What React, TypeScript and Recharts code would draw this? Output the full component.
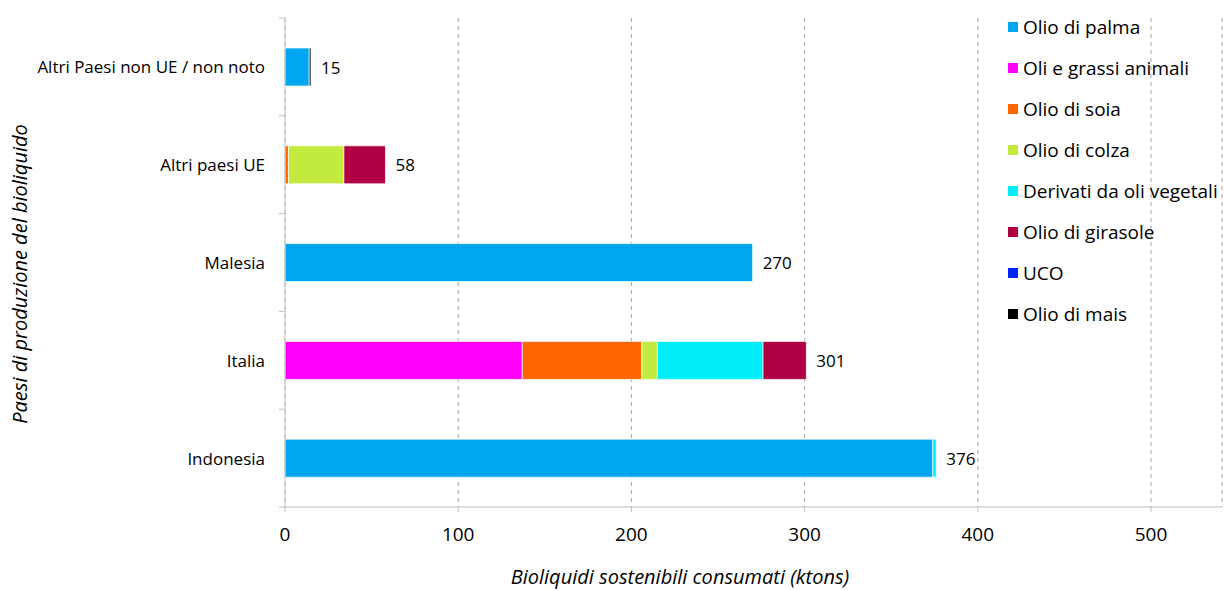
import { Bar, BarChart, CartesianGrid, LabelList, XAxis, YAxis } from "recharts";

const countries = ["Altri Paesi non UE / non noto", "Altri paesi UE", "Malesia", "Italia", "Indonesia"];
const palma = [14, 0, 270, 0, 374];
const animali = [0, 0, 0, 137, 0];
const soia = [0, 2, 0, 69, 0];
const colza = [0, 32, 0, 9, 0];
const derivati = [0, 0, 0, 61, 2];
const girasole = [0, 24, 0, 25, 0];
const uco = [0, 0, 0, 0, 0];
const mais = [1, 0, 0, 0, 0];
const xTicks = [0, 100, 200, 300, 400, 500];

const series = [
  { key: "palma", name: "Olio di palma", color: "#00a6ef", values: palma },
  { key: "animali", name: "Oli e grassi animali", color: "#ff00ff", values: animali },
  { key: "soia", name: "Olio di soia", color: "#ff6600", values: soia },
  { key: "colza", name: "Olio di colza", color: "#c3eb3f", values: colza },
  { key: "derivati", name: "Derivati da oli vegetali", color: "#00eefa", values: derivati },
  { key: "girasole", name: "Olio di girasole", color: "#ae0042", values: girasole },
  { key: "uco", name: "UCO", color: "#0022ff", values: uco },
  { key: "mais", name: "Olio di mais", color: "#000000", values: mais },
];

const data = countries.map((c, i) => {
  const row: Record<string, string | number> = { country: c };
  let total = 0;
  let last = "";
  series.forEach((s) => {
    row[s.key] = s.values[i];
    total += s.values[i];
    if (s.values[i] > 0) last = s.key;
  });
  row.total = total;
  row.labelKey = last; // the outermost segment carries the total label
  return row;
});

const FONT = "'Open Sans', sans-serif";
const HALF_BAND = (507 - 18) / 10;

function CountryTick(props: any) {
  const { x, y, payload, index } = props;
  return (
    <g>
      <text x={x - 20} y={y} textAnchor="end" dominantBaseline="central" fontSize={17} fill="#000" fontFamily={FONT}>
        {payload.value}
      </text>
      <line x1={x - 6} x2={x} y1={y - HALF_BAND} y2={y - HALF_BAND} stroke="#bfbfbf" />
      {index === countries.length - 1 && (
        <line x1={x - 6} x2={x} y1={y + HALF_BAND} y2={y + HALF_BAND} stroke="#bfbfbf" />
      )}
    </g>
  );
}

function TotalLabel(props: any) {
  const { x, y, width, height, value } = props;
  if (value === undefined || value === null || value === "") return null;
  return (
    <text x={x + width + 10} y={y + height / 2} dominantBaseline="central" fontSize={17} fill="#000" fontFamily={FONT}>
      {value}
    </text>
  );
}

export default function App() {
  return (
    <div style={{ position: "fixed", left: 0, top: 0, width: 1224, height: 590, background: "#fff", fontFamily: FONT }}>
      <BarChart
        width={1224}
        height={590}
        data={data}
        layout="vertical"
        margin={{ top: 18, right: 2, bottom: 43, left: 5 }}
        barSize={38}
      >
        <CartesianGrid horizontal={false} stroke="#a6a6a6" strokeDasharray="4 4" />
        <XAxis
          type="number"
          domain={[0, 541]}
          ticks={xTicks}
          tickLine={{ stroke: "#bfbfbf" }}
          tickSize={5}
          axisLine={{ stroke: "#bfbfbf" }}
          tickMargin={16}
          height={40}
          tick={{ fontSize: 19, fill: "#000", fontFamily: FONT }}
        />
        <YAxis
          type="category"
          dataKey="country"
          width={280}
          tickSize={0}
          tickMargin={0}
          tickLine={false}
          axisLine={{ stroke: "#bfbfbf" }}
          tick={<CountryTick />}
        />
        {series.map((s) => (
          <Bar
            key={s.key}
            dataKey={s.key}
            name={s.name}
            stackId="a"
            fill={s.color}
            stroke="#fff"
            strokeWidth={0.7}
            isAnimationActive={false}
          >
            <LabelList
              valueAccessor={(entry: any) =>
                entry?.payload?.labelKey === s.key ? entry.payload.total : undefined
              }
              content={<TotalLabel />}
            />
          </Bar>
        ))}
      </BarChart>
      <div
        style={{
          position: "absolute",
          left: 680,
          top: 577,
          transform: "translate(-50%, -50%)",
          fontSize: 20,
          lineHeight: 1.1,
          fontStyle: "italic",
          whiteSpace: "nowrap",
        }}
      >
        Bioliquidi sostenibili consumati (ktons)
      </div>
      <div
        style={{
          position: "absolute",
          left: 20,
          top: 274,
          transform: "translate(-50%, -50%) rotate(-90deg)",
          fontSize: 20,
          lineHeight: 1.1,
          fontStyle: "italic",
          whiteSpace: "nowrap",
        }}
      >
        Paesi di produzione del bioliquido
      </div>
      <div style={{ position: "absolute", left: 1008, top: 6 }}>
        {series.map((s) => (
          <div key={s.key} style={{ display: "flex", alignItems: "center", height: 41, fontSize: 19, whiteSpace: "nowrap" }}>
            <span style={{ width: 10, height: 10, background: s.color, marginRight: 5, display: "inline-block" }} />
            <span>{s.name}</span>
          </div>
        ))}
      </div>
    </div>
  );
}
